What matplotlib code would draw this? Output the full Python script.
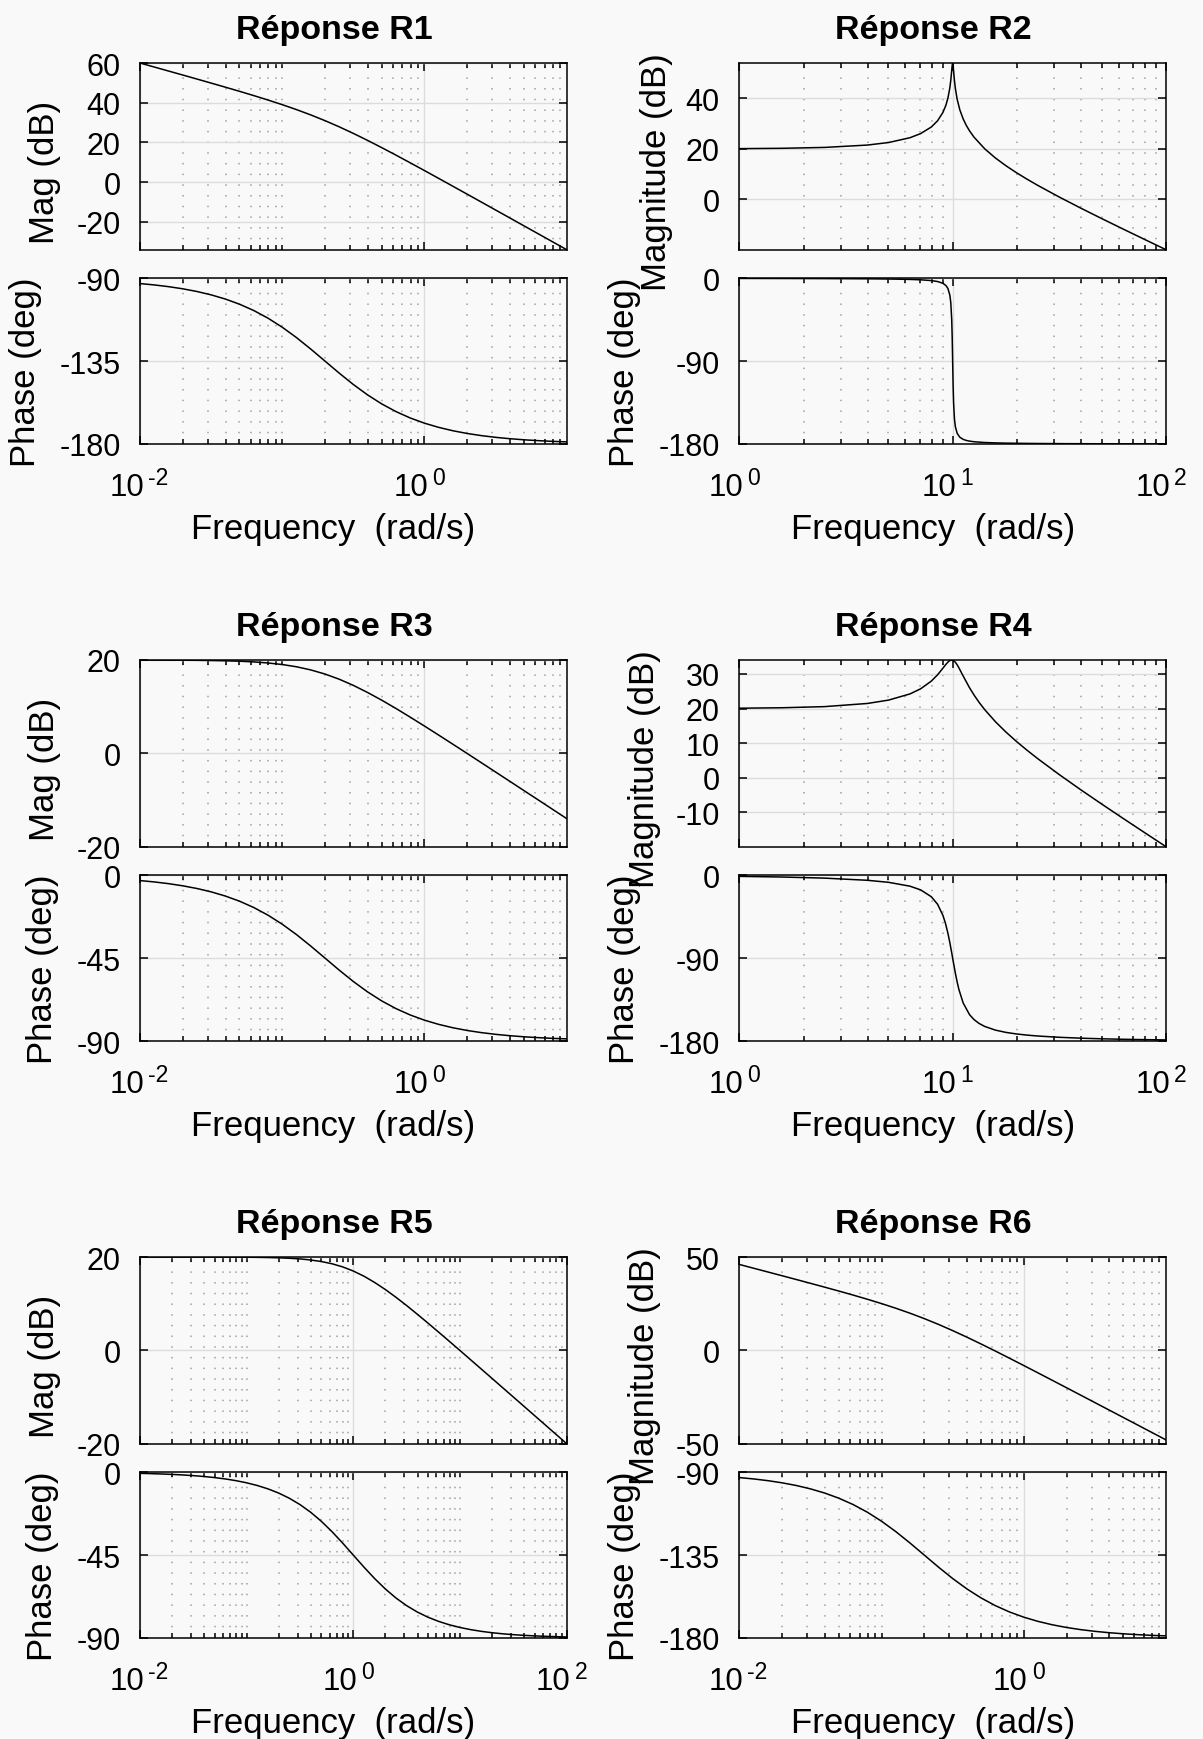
import math
import matplotlib
matplotlib.use("Agg")
import matplotlib.pyplot as plt
from matplotlib.ticker import FixedLocator, NullFormatter
from matplotlib.transforms import blended_transform_factory, offset_copy

plt.rcParams['font.family'] = ['Liberation Sans', 'DejaVu Sans']
plt.rcParams['axes.unicode_minus'] = False

# ---- values ----
# frequency points (rad/s) for the plots running from 1e-2 to 1e1
w_low = [0.01, 0.012589, 0.01585, 0.019953, 0.02512, 0.031623, 0.03981, 0.050119,
         0.0631, 0.079433, 0.1, 0.12589, 0.1585, 0.19953, 0.2512, 0.31623, 0.3981,
         0.50119, 0.631, 0.79433, 1.0, 1.2589, 1.585, 1.9953, 2.512, 3.1623, 3.981,
         5.0119, 6.31, 7.9433, 10.0]

r1_mag = [59.99, 57.98, 55.97, 53.96, 51.93, 49.89, 47.83, 45.74, 43.59, 41.36,
          39.03, 36.55, 33.88, 31.00, 27.89, 24.56, 21.04, 17.38, 13.61, 9.75,
          5.85, 1.91, -2.05, -6.02, -10.01, -14.00, -17.99, -21.99, -25.98, -29.98,
          -33.98]
r1_phase = [-92.86, -93.60, -94.53, -95.70, -97.16, -98.99, -101.26, -104.07,
            -107.51, -111.66, -116.57, -122.19, -128.40, -134.93, -141.47, -147.69,
            -153.33, -158.25, -162.41, -165.87, -168.69, -170.97, -172.81, -174.28,
            -175.45, -176.38, -177.12, -177.72, -178.18, -178.56, -178.85]

r3_mag = [19.99, 19.98, 19.97, 19.96, 19.93, 19.89, 19.83, 19.74, 19.59, 19.36,
          19.03, 18.55, 17.88, 17.00, 15.89, 14.56, 13.04, 11.38, 9.61, 7.75,
          5.85, 3.91, 1.95, -0.02, -2.01, -4.00, -5.99, -7.99, -9.98, -11.98, -13.98]
r3_phase = [-2.86, -3.60, -4.53, -5.70, -7.16, -8.99, -11.26, -14.07, -17.51, -21.66,
            -26.57, -32.19, -38.40, -44.93, -51.47, -57.69, -63.33, -68.25, -72.41,
            -75.87, -78.69, -80.97, -82.81, -84.28, -85.45, -86.38, -87.12, -87.72,
            -88.18, -88.56, -88.85]

r6_mag = [46.01, 44.00, 41.99, 39.98, 37.95, 35.91, 33.85, 31.76, 29.61, 27.38,
          25.05, 22.57, 19.90, 17.02, 13.91, 10.58, 7.06, 3.40, -0.37, -4.23,
          -8.13, -12.07, -16.03, -20.00, -23.99, -27.98, -31.97, -35.97, -39.96,
          -43.96, -47.96]
r6_phase = r1_phase

# R5 runs from 1e-2 to 1e2
w_r5 = [0.01, 0.012589, 0.01585, 0.019953, 0.02512, 0.031623, 0.03981, 0.050119,
        0.0631, 0.079433, 0.1, 0.12589, 0.1585, 0.19953, 0.2512, 0.31623, 0.3981,
        0.50119, 0.631, 0.79433, 1.0, 1.2589, 1.585, 1.9953, 2.512, 3.1623, 3.981,
        5.0119, 6.31, 7.9433, 10.0, 12.589, 15.85, 19.953, 25.12, 31.623, 39.81,
        50.119, 63.1, 79.433, 100.0]
r5_mag = [20.00, 20.00, 20.00, 20.00, 20.00, 20.00, 19.99, 19.99, 19.98, 19.97,
          19.96, 19.93, 19.89, 19.83, 19.73, 19.59, 19.36, 19.03, 18.55, 17.88,
          16.99, 15.88, 14.54, 13.03, 11.36, 9.59, 7.73, 5.83, 3.89, 1.93,
          -0.04, -2.03, -4.02, -6.01, -8.01, -10.00, -12.00, -14.00, -16.00, -18.00,
          -20.00]
r5_phase = [-0.57, -0.72, -0.91, -1.14, -1.44, -1.81, -2.28, -2.87, -3.61, -4.54,
            -5.71, -7.18, -9.01, -11.28, -14.10, -17.55, -21.70, -26.62, -32.25,
            -38.46, -45.00, -51.54, -57.75, -63.38, -68.30, -72.45, -75.90, -78.72,
            -80.99, -82.83, -84.29, -85.46, -86.39, -87.13, -87.72, -88.19, -88.56,
            -88.86, -89.09, -89.28, -89.43]

# R2: sharp resonance at 10 rad/s
w_r2 = [1.0, 1.585, 2.512, 3.981, 5.012, 6.31, 7.079, 7.943, 8.5, 9.0, 9.3, 9.5,
        9.7, 9.8, 9.9, 9.95, 10.0, 10.05, 10.1, 10.2, 10.3, 10.5, 10.8, 11.2, 11.6,
        12.0, 12.59, 14.13, 15.85, 17.78, 19.95, 22.39, 25.12, 31.62, 39.81, 50.12,
        63.1, 79.43, 100.0]
r2_mag = [20.09, 20.22, 20.57, 21.50, 22.51, 24.41, 26.04, 28.65, 31.12, 34.39,
          37.31, 40.06, 44.12, 47.09, 51.03, 53.05, 53.98, 52.97, 50.90, 46.89,
          43.84, 39.61, 35.50, 31.86, 29.21, 27.12, 24.65, 20.03, 16.41, 13.31,
          10.51, 7.93, 5.50, 0.92, -3.43, -7.65, -11.78, -15.86, -19.91]
r2_phase = [-0.12, -0.19, -0.31, -0.54, -0.77, -1.20, -1.63, -2.47, -3.51, -5.41,
            -7.84, -11.03, -18.17, -26.33, -44.86, -63.38, -90.00, -116.51, -134.86,
            -153.21, -161.31, -168.42, -172.60, -174.97, -176.16, -176.88, -177.54,
            -178.38, -178.80, -179.06, -179.23, -179.36, -179.46, -179.60, -179.69,
            -179.76, -179.81, -179.85, -179.88]

# R4: damped resonance at 10 rad/s
w_r4 = [1.0, 1.585, 2.512, 3.981, 5.012, 6.31, 7.079, 7.943, 8.5, 9.0, 9.25, 9.5,
        9.7, 9.9, 10.1, 10.3, 10.5, 10.7, 11.2, 12.0, 12.59, 13.3, 14.13, 15.85,
        17.78, 19.95, 22.39, 25.12, 31.62, 39.81, 50.12, 63.1, 79.43, 100.0]
r4_mag = [20.09, 20.22, 20.55, 21.46, 22.44, 24.22, 25.70, 27.92, 29.75, 31.64,
          32.59, 33.41, 33.86, 34.02, 33.85, 33.36, 32.63, 31.75, 29.40, 26.00,
          23.92, 21.79, 19.69, 16.22, 13.19, 10.44, 7.88, 5.46, 0.90, -3.45,
          -7.66, -11.79, -15.86, -19.92]
r4_phase = [-1.16, -1.86, -3.07, -5.41, -7.63, -11.84, -15.84, -23.28, -31.49, -43.45,
            -52.03, -62.84, -73.06, -84.26, -95.68, -106.47, -116.02, -124.10,
            -138.64, -151.39, -156.72, -160.92, -164.17, -168.16, -170.66, -172.37,
            -173.63, -174.60, -175.98, -176.93, -177.62, -178.14, -178.53, -178.84]

titles = ['Réponse R1', 'Réponse R2', 'Réponse R3', 'Réponse R4', 'Réponse R5', 'Réponse R6']

# ---- layout, in pixels of the 1203x1740 canvas ----
W, H = 1203, 1740
COL_LEFT = [140.0, 739.3]
AX_W = 426.7
MAG_TOP, MAG_H = 64.0, 186.7
PH_TOP, PH_H = 279.3, 165.7
ROW_STEP = 597.0
BG = '#f9f9f9'


def rect(left, top, w, h):
    return [left / W, 1 - (top + h) / H, w / W, h / H]


def style_axis(ax, xlim, xmajor):
    ax.set_xscale('log')
    ax.set_xlim(*xlim)
    ax.set_facecolor(BG)
    minor = []
    d = xlim[0]
    while d < xlim[1]:
        for k in range(1, 10):
            v = k * d
            if xlim[0] <= v <= xlim[1] * 1.0001 and not any(abs(v - m) / m < 1e-6 for m in xmajor):
                minor.append(v)
        d *= 10
    ax.xaxis.set_major_locator(FixedLocator(xmajor))
    ax.xaxis.set_minor_locator(FixedLocator(minor))
    ax.xaxis.set_major_formatter(NullFormatter())
    ax.xaxis.set_minor_formatter(NullFormatter())
    ax.grid(which='major', axis='both', color='#dcdcdc', lw=1.0, ls='-')
    ax.grid(which='minor', axis='x', color='#a0a0a0', lw=1.1, ls=(0, (1, 6)))
    ax.set_axisbelow(True)
    ax.tick_params(which='both', direction='in', top=True, right=True,
                   width=1.1, labelsize=22)
    ax.tick_params(which='major', length=6)
    ax.tick_params(which='minor', length=3.5)
    ax.tick_params(axis='y', pad=14)
    for s in ax.spines.values():
        s.set_linewidth(1.1)


def decade_labels(ax, xmajor):
    # MATLAB-style "10" with a raised exponent
    trans = blended_transform_factory(ax.transData, ax.transAxes)
    base_trans = offset_copy(trans, fig=fig, x=4, y=0, units='dots')
    sup_trans = offset_copy(trans, fig=fig, x=8, y=0, units='dots')
    for v in xmajor:
        e = int(round(math.log10(v)))
        ax.text(v, -51 / PH_H, '10', transform=base_trans, ha='right', va='baseline',
                fontsize=22.5)
        ax.text(v, -40 / PH_H, str(e), transform=sup_trans, ha='left', va='baseline',
                fontsize=16.5)


def bode(idx, w, mag, phase, xlim, xmajor, mag_ylim, mag_ticks, ph_ylim, ph_ticks,
         mag_label, mag_lab_dx, ph_lab_dx):
    row, col = divmod(idx, 2)
    left = COL_LEFT[col]
    top = row * ROW_STEP
    ax_m = fig.add_axes(rect(left, MAG_TOP + top, AX_W, MAG_H))
    ax_p = fig.add_axes(rect(left, PH_TOP + top, AX_W, PH_H))

    ax_m.plot(w, mag, color='black', lw=1.1)
    ax_p.plot(w, phase, color='black', lw=1.1)

    for ax in (ax_m, ax_p):
        style_axis(ax, xlim, xmajor)

    ax_m.set_ylim(*mag_ylim)
    ax_m.set_yticks(mag_ticks)
    ax_m.set_yticklabels([str(t) for t in mag_ticks])

    ax_p.set_ylim(*ph_ylim)
    ax_p.set_yticks(ph_ticks)
    ax_p.set_yticklabels([str(t) for t in ph_ticks])
    decade_labels(ax_p, xmajor)

    ax_m.set_ylabel(mag_label, fontsize=25)
    ax_m.yaxis.set_label_coords(mag_lab_dx / AX_W, 0.5 - 15 / MAG_H)
    ax_p.set_ylabel('Phase (deg)', fontsize=25)
    ax_p.yaxis.set_label_coords(ph_lab_dx / AX_W, 0.5 - 10 / PH_H)

    ax_p.set_xlabel('Frequency  (rad/s)', fontsize=25)
    ax_p.xaxis.set_label_coords(0.5 - 20 / AX_W, -68 / PH_H)
    ax_p.xaxis.label.set_va('top')

    ax_m.text(0.5 - 19 / AX_W, 1 + 25 / MAG_H, titles[idx], transform=ax_m.transAxes,
              ha='center', va='baseline', fontsize=24.5, fontweight='bold')


fig = plt.figure(figsize=(W / 100, H / 100), dpi=100, facecolor=BG)

bode(0, w_low, r1_mag, r1_phase, (0.01, 10), [0.01, 1.0], (-33.98, 60),
     [-20, 0, 20, 40, 60], (-180, -90), [-180, -135, -90], 'Mag (dB)', -79, -98)
bode(1, w_r2, r2_mag, r2_phase, (1, 100), [1.0, 10.0, 100.0], (-19.91, 53.98),
     [0, 20, 40], (-180, 0), [-180, -90, 0], 'Magnitude (dB)', -66, -98)
bode(2, w_low, r3_mag, r3_phase, (0.01, 10), [0.01, 1.0], (-20, 20),
     [-20, 0, 20], (-90, 0), [-90, -45, 0], 'Mag (dB)', -79, -81)
bode(3, w_r4, r4_mag, r4_phase, (1, 100), [1.0, 10.0, 100.0], (-19.92, 34.02),
     [-10, 0, 10, 20, 30], (-180, 0), [-180, -90, 0], 'Magnitude (dB)', -78, -98)
bode(4, w_r5, r5_mag, r5_phase, (0.01, 100), [0.01, 1.0, 100.0], (-20, 20),
     [-20, 0, 20], (-90, 0), [-90, -45, 0], 'Mag (dB)', -79, -81)
bode(5, w_low, r6_mag, r6_phase, (0.01, 10), [0.01, 1.0], (-50, 50),
     [-50, 0, 50], (-180, -90), [-180, -135, -90], 'Magnitude (dB)', -78, -98)

fig.savefig('out.png', dpi=100, facecolor=BG)
